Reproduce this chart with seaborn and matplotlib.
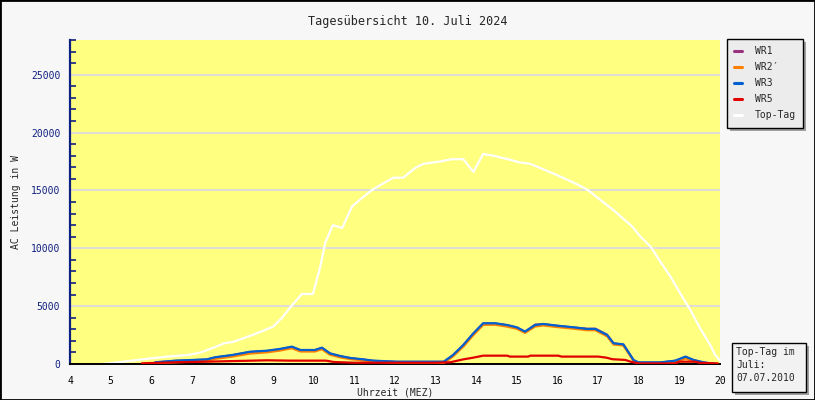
import numpy as np
import pandas as pd
import matplotlib
matplotlib.use("Agg")
import matplotlib.pyplot as plt
from matplotlib.patches import Rectangle
from matplotlib.ticker import MultipleLocator
import seaborn as sns

# ---------------- data ----------------
title = "Tagesübersicht 10. Juli 2024"
xlabel = "Uhrzeit (MEZ)"
ylabel = "AC Leistung in W"
series_names = ["WR1", "WR2\u2032", "WR3", "WR5", "Top-Tag"]
series_colors = ["#993380", "#ff8000", "#0060d0", "#e00000", "#ffffff"]
x_ticks = list(range(4, 21))
y_ticks = [0, 5000, 10000, 15000, 20000, 25000]
note_text = "Top-Tag im\nJuli:\n07.07.2010"

top_t = [4.8, 5.2, 6.0, 6.4, 6.9, 7.2, 7.45, 7.8, 8.0, 8.2, 8.6, 9.0, 9.22, 9.47, 9.71,
         9.98, 10.16, 10.28, 10.47, 10.7, 10.94, 11.19, 11.44, 11.68, 11.96, 12.2, 12.5,
         12.7, 13.11, 13.4, 13.68, 13.93, 14.17, 14.42, 14.66, 14.84, 15.03, 15.33, 15.58,
         16.07, 16.56, 16.76, 17.05, 17.37, 17.84, 18.04, 18.29, 18.53, 18.78, 19.02,
         19.27, 19.51, 19.76, 19.88, 20.0]
top_v = [0, 150, 490, 640, 780, 980, 1300, 1790, 1900, 2140, 2650, 3230, 4000, 5100, 6050,
         6050, 8400, 10450, 12000, 11750, 13600, 14350, 15050, 15550, 16100, 16100, 16950,
         17300, 17500, 17700, 17700, 16600, 18150, 18000, 17800, 17650, 17450, 17300, 16930,
         16200, 15400, 15000, 14190, 13320, 11880, 11010, 10150, 8850, 7550, 6110,
         4670, 3090, 1640, 780, 300]

wr_t = [6.1, 6.6, 7.37, 7.57, 8.0, 8.43, 8.85, 9.17, 9.46, 9.67, 10.03, 10.2, 10.4, 10.65,
        10.9, 11.22, 11.46, 12.05, 13.2, 13.3, 13.43, 13.68, 13.93, 14.17, 14.47, 14.76,
        15.0, 15.2, 15.45, 15.65, 16.0, 16.4, 16.73, 16.93, 17.22, 17.38, 17.62, 17.74,
        17.87, 17.99, 18.53, 18.9, 19.15, 19.35, 19.6, 19.9]
wr3_v = [150, 290, 400, 580, 780, 1060, 1150, 1300, 1500, 1210, 1210, 1410, 920, 690,
         520, 400, 290, 200, 200, 450, 780, 1640, 2650, 3520, 3520, 3370,
         3170, 2800, 3370, 3460, 3310, 3170, 3030, 3030, 2510, 1790, 1700, 1060,
         350, 140, 140, 290, 640, 350, 140, 0]
wr1_v = [130, 270, 380, 560, 760, 1030, 1120, 1270, 1470, 1190, 1190, 1390, 900, 670,
         500, 380, 270, 180, 180, 430, 760, 1610, 2620, 3490, 3490, 3340,
         3140, 2780, 3400, 3440, 3290, 3150, 3040, 3050, 2530, 1770, 1680, 1040,
         330, 120, 120, 270, 600, 330, 120, 0]
wr2_v = [60, 150, 260, 440, 640, 900, 1010, 1160, 1360, 1080, 1080, 1280, 800, 570,
         420, 300, 200, 80, 80, 330, 660, 1500, 2500, 3380, 3390, 3230,
         3040, 2690, 3240, 3330, 3190, 3050, 2920, 2920, 2400, 1680, 1600, 970,
         270, 60, 60, 180, 480, 240, 90, 0]

wr5_t = [5.77, 6.63, 7.37, 8.1, 8.85, 9.4, 10.3, 10.5, 11.0, 13.0, 13.36, 13.68, 13.93,
         14.17, 14.76, 14.83, 15.28, 15.33, 16.02, 16.1, 17.0, 17.2, 17.35, 17.67, 17.8,
         18.0, 18.9, 19.0, 19.4, 19.5, 19.95]
wr5_v = [60, 150, 200, 260, 320, 290, 290, 170, 110, 110, 150, 400, 550,
         720, 720, 640, 640, 720, 720, 640, 640, 550, 415, 350, 200,
         50, 50, 200, 200, 100, 50]

frames = [
    pd.DataFrame({"t": wr_t, "W": wr1_v, "s": series_names[0]}),
    pd.DataFrame({"t": wr_t, "W": wr2_v, "s": series_names[1]}),
    pd.DataFrame({"t": wr_t, "W": wr3_v, "s": series_names[2]}),
    pd.DataFrame({"t": wr5_t, "W": wr5_v, "s": series_names[3]}),
    pd.DataFrame({"t": top_t, "W": top_v, "s": series_names[4]}),
]

# ---------------- plot ----------------
sns.set_style("white")
plt.rcParams["font.family"] = ["DejaVu Sans Mono", "DejaVu Sans"]

fig = plt.figure(figsize=(8.15, 4.0), dpi=100, facecolor="#f7f7f7")
ax = fig.add_axes([70 / 815, 1 - 364 / 400, 650 / 815, 324 / 400])
ax.set_facecolor("#ffff80")

zorders = [3, 4, 5, 6, 2]
handles = []
for df, name, col, z in zip(frames, series_names, series_colors, zorders):
    sns.lineplot(data=df, x="t", y="W", color=col, linewidth=1.6, ax=ax,
                 sort=False, estimator=None, zorder=z, legend=False)
    handles.append(plt.Line2D([], [], color=col, linewidth=2.2, label=name))

ax.set_xlim(4, 20)
ax.set_ylim(0, 28000)
ax.set_xticks(x_ticks)
ax.set_xticklabels([str(v) for v in x_ticks], fontsize=7, color="black")
ax.set_yticks(y_ticks)
ax.set_yticklabels([str(v) for v in y_ticks], fontsize=7, color="#102080")
ax.yaxis.set_minor_locator(MultipleLocator(1000))
ax.grid(axis="y", which="major", color="#d8d8e8", linewidth=1.2, zorder=0)
ax.set_axisbelow(True)

for side in ["top", "right"]:
    ax.spines[side].set_visible(False)
ax.spines["left"].set_color("#102080")
ax.spines["left"].set_linewidth(1.6)
ax.spines["bottom"].set_color("black")
ax.spines["bottom"].set_linewidth(1.4)

ax.tick_params(axis="x", direction="in", length=5, width=1.2, color="black", pad=9)
ax.tick_params(axis="y", which="major", direction="in", length=7, width=1.2,
               color="#102080", pad=7)
ax.tick_params(axis="y", which="minor", direction="in", length=4, width=1.2,
               color="#102080", left=True)

ax.set_xlabel(xlabel, fontsize=7, labelpad=1)
ax.set_ylabel(ylabel, fontsize=7, labelpad=7)
fig.text(0.5, 1 - 21 / 400, title, ha="center", va="center", fontsize=8.5)

leg = fig.legend(handles=handles, loc="upper left",
                 bbox_to_anchor=(727 / 815, 1 - 39 / 400), borderaxespad=0,
                 fontsize=7, handlelength=0.8, handletextpad=1.3, labelspacing=0.62,
                 borderpad=0.75, fancybox=False, framealpha=1, facecolor="#ececec",
                 edgecolor="black",
                 shadow={"ox": 2.2, "oy": -2.2, "facecolor": "#a0a0a0",
                         "edgecolor": "none", "alpha": 1})
leg.get_frame().set_linewidth(1.0)

# note box bottom right
bx, by, bw, bh = 732 / 815, 1 - 392 / 400, 74 / 815, 49 / 400
fig.patches.append(Rectangle((bx + 3 / 815, by - 3 / 400), bw, bh, transform=fig.transFigure,
                             facecolor="#a0a0a0", edgecolor="none", zorder=1))
fig.patches.append(Rectangle((bx, by), bw, bh, transform=fig.transFigure,
                             facecolor="#f2f2f2", edgecolor="black", linewidth=1.0, zorder=2))
fig.text(bx + 4 / 815, by + bh - 4 / 400, note_text, ha="left", va="top",
         fontsize=7, linespacing=1.4, zorder=3)

# outer frame
fig.patches.append(Rectangle((0, 0), 1, 1, transform=fig.transFigure, fill=False,
                             edgecolor="black", linewidth=2.0, zorder=10))

fig.savefig("out.png", dpi=100, facecolor=fig.get_facecolor())
